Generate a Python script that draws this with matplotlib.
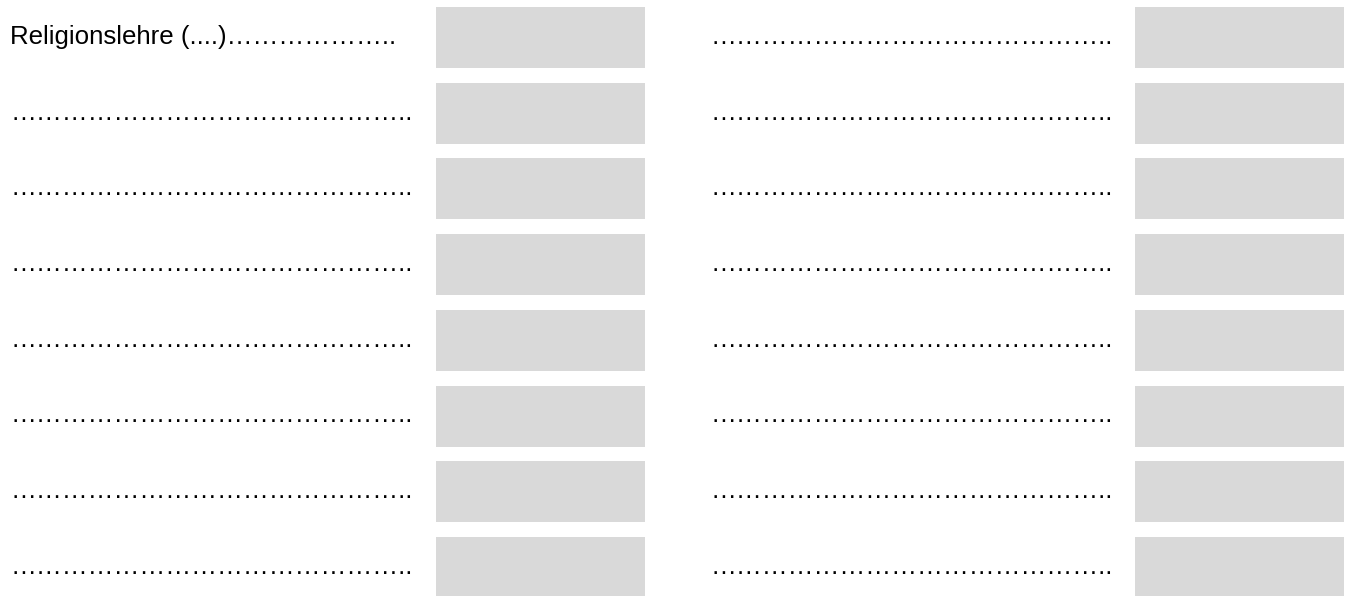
import matplotlib
matplotlib.use('Agg')
import matplotlib.pyplot as plt

plt.rcParams['font.family'] = ['Liberation Sans', 'DejaVu Sans']

dots = '\u2026' * 15 + '..'
left_labels = ['Religionslehre (....)' + '\u2026' * 6 + '..'] + [dots] * 7
right_labels = [dots] * 8
rows = list(range(8))

# layout in pixel units
pitch = 75.7
top0 = 7
box_h = 61
left_box = (436, 209)
right_box = (1135, 209)

fig = plt.figure(figsize=(13.51, 5.96), dpi=100)
ax = fig.add_axes([0, 0, 1, 1])
ax.set_xlim(0, 1351)
ax.set_ylim(596, 0)
ax.axis('off')

tops = [top0 + r * pitch for r in rows]
ax.barh([t + box_h / 2 for t in tops], left_box[1], left=left_box[0],
        height=box_h, color='#d9d9d9', linewidth=0)
ax.barh([t + box_h / 2 for t in tops], right_box[1], left=right_box[0],
        height=box_h, color='#d9d9d9', linewidth=0)

for t, lab in zip(tops, left_labels):
    ax.text(10, t + 37, lab, fontsize=18.6, va='baseline', ha='left')
for t, lab in zip(tops, right_labels):
    ax.text(710, t + 37, lab, fontsize=18.6, va='baseline', ha='left')

fig.savefig('out.png', dpi=100)
